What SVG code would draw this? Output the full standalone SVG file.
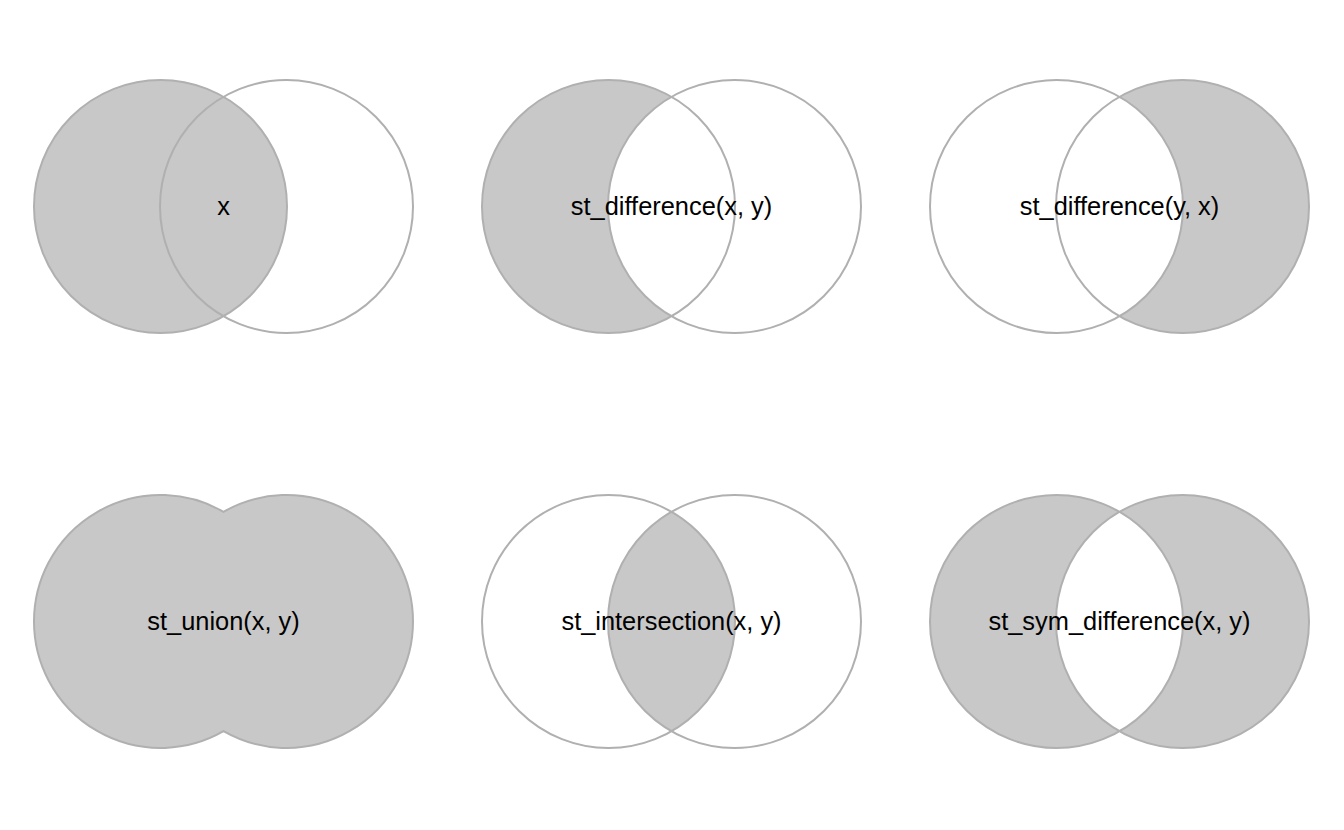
<svg xmlns="http://www.w3.org/2000/svg" width="1344" height="830" viewBox="0 0 1344 830">
<style>
.f{fill:#c8c8c8;stroke:none}
.fs{fill:#c8c8c8;stroke:#b0b0b0;stroke-width:2}
.o{fill:none;stroke:#b0b0b0;stroke-width:2}
text{font-family:"Liberation Sans",Arial,sans-serif;font-size:25.4px;fill:#000;text-anchor:middle}
</style>
<defs>
<circle id="cx" cx="-63" cy="0" r="126.5"/>
<circle id="cy" cx="63" cy="0" r="126.5"/>
</defs>
<rect width="1344" height="830" fill="#fff"/>
<g id="p1" transform="translate(223.5,206.5)">
<use href="#cx" class="f"/>
<use href="#cx" class="o"/>
<use href="#cy" class="o"/>
<text x="0" y="8">x</text>
</g>
<g id="p2" transform="translate(671.5,206.5)">
<path class="f" d="M0,-109.7 A126.5,126.5 0 1 0 0,109.7 A126.5,126.5 0 0 1 0,-109.7 Z"/>
<use href="#cx" class="o"/>
<use href="#cy" class="o"/>
<text x="0" y="8">st_difference(x, y)</text>
</g>
<g id="p3" transform="translate(1119.5,206.5)">
<path class="f" d="M0,-109.7 A126.5,126.5 0 1 1 0,109.7 A126.5,126.5 0 0 0 0,-109.7 Z"/>
<use href="#cx" class="o"/>
<use href="#cy" class="o"/>
<text x="0" y="8">st_difference(y, x)</text>
</g>
<g id="p4" transform="translate(223.5,621.5)">
<path class="fs" d="M0,-109.7 A126.5,126.5 0 1 0 0,109.7 A126.5,126.5 0 1 0 0,-109.7 Z"/>
<text x="0" y="8">st_union(x, y)</text>
</g>
<g id="p5" transform="translate(671.5,621.5)">
<path class="f" d="M0,-109.7 A126.5,126.5 0 0 0 0,109.7 A126.5,126.5 0 0 0 0,-109.7 Z"/>
<use href="#cx" class="o"/>
<use href="#cy" class="o"/>
<text x="0" y="8">st_intersection(x, y)</text>
</g>
<g id="p6" transform="translate(1119.5,621.5)">
<path class="f" d="M0,-109.7 A126.5,126.5 0 1 0 0,109.7 A126.5,126.5 0 0 1 0,-109.7 Z"/>
<path class="f" d="M0,-109.7 A126.5,126.5 0 1 1 0,109.7 A126.5,126.5 0 0 0 0,-109.7 Z"/>
<use href="#cx" class="o"/>
<use href="#cy" class="o"/>
<text x="0" y="8">st_sym_difference(x, y)</text>
</g>
<g id="connectors"/>
</svg>
